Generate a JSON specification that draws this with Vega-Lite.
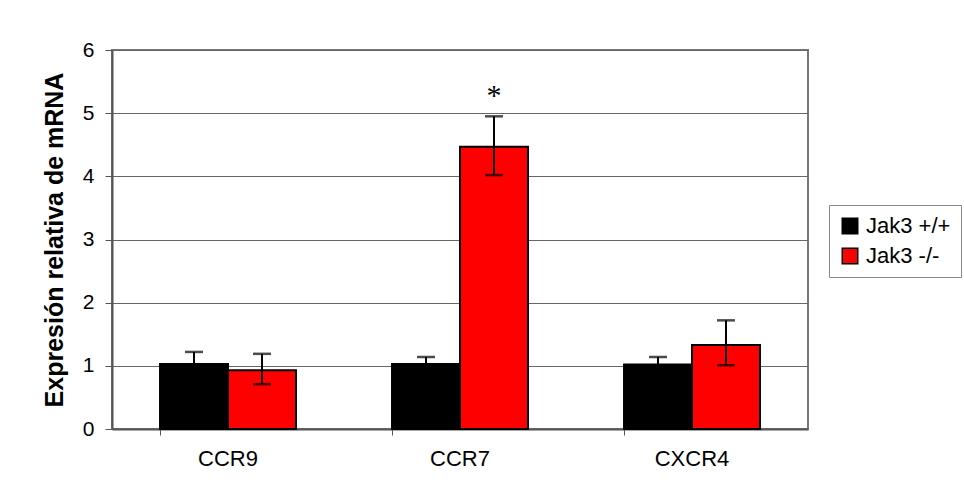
{
  "$schema": "https://vega.github.io/schema/vega-lite/v6.json",
  "width": 696,
  "height": 379,
  "autosize": {"type": "none"},
  "padding": {"left": 112, "top": 50, "right": 156, "bottom": 74},
  "background": "white",
  "config": {
    "font": "Liberation Sans",
    "view": {"stroke": "#777", "strokeWidth": 2}
  },
  "datasets": {
    "bars": [
      {"gene": "CCR9", "group": "Jak3 +/+", "value": 1.03, "lo": 0.84, "hi": 1.22},
      {"gene": "CCR9", "group": "Jak3 -/-", "value": 0.93, "lo": 0.71, "hi": 1.19},
      {"gene": "CCR7", "group": "Jak3 +/+", "value": 1.03, "lo": 0.92, "hi": 1.14},
      {"gene": "CCR7", "group": "Jak3 -/-", "value": 4.47, "lo": 4.02, "hi": 4.95},
      {"gene": "CXCR4", "group": "Jak3 +/+", "value": 1.02, "lo": 0.9, "hi": 1.14},
      {"gene": "CXCR4", "group": "Jak3 -/-", "value": 1.33, "lo": 1.01, "hi": 1.72}
    ],
    "stars": [
      {"gene": "CCR7", "group": "Jak3 -/-", "y": 5.36, "label": "*"}
    ]
  },
  "encoding": {
    "x": {
      "field": "gene",
      "type": "nominal",
      "sort": ["CCR9", "CCR7", "CXCR4"],
      "scale": {"paddingInner": 0.414, "paddingOuter": 0.207},
      "axis": {
        "title": null,
        "labelAngle": 0,
        "labelFontSize": 22,
        "labelColor": "black",
        "labelPadding": 13,
        "bandPosition": 0,
        "tickSize": 6,
        "tickColor": "#555",
        "domainColor": "#555",
        "domainWidth": 2,
        "grid": false
      }
    },
    "xOffset": {"field": "group", "type": "nominal", "sort": ["Jak3 +/+", "Jak3 -/-"], "scale": {"padding": 0}}
  },
  "layer": [
    {
      "data": {"name": "bars"},
      "mark": {"type": "bar", "stroke": "black", "strokeWidth": 2},
      "encoding": {
        "y": {
          "field": "value",
          "type": "quantitative",
          "scale": {"domain": [0, 6], "nice": false},
          "axis": {
            "title": "Expresión relativa de mRNA",
            "titleFontSize": 25,
            "titleFontWeight": "bold",
            "titleColor": "black",
            "titlePadding": 15,
            "values": [0, 1, 2, 3, 4, 5, 6],
            "format": "d",
            "labelFontSize": 21,
            "labelColor": "black",
            "labelPadding": 11,
            "tickSize": 7,
            "tickColor": "#555",
            "domainColor": "#555",
            "domainWidth": 2,
            "grid": true,
            "gridColor": "#666",
            "gridWidth": 1
          }
        },
        "color": {
          "field": "group",
          "type": "nominal",
          "sort": ["Jak3 +/+", "Jak3 -/-"],
          "scale": {"domain": ["Jak3 +/+", "Jak3 -/-"], "range": ["#000000", "#ff0000"]},
          "legend": {
            "title": null,
            "orient": "none",
            "legendX": 717,
            "legendY": 155,
            "symbolType": "square",
            "symbolSize": 240,
            "symbolStrokeColor": "black",
            "symbolStrokeWidth": 1.5,
            "labelFontSize": 22,
            "labelColor": "black",
            "labelOffset": 5,
            "rowPadding": 8,
            "strokeColor": "#888",
            "padding": 10,
            "fillColor": "white"
          }
        }
      }
    },
    {
      "data": {"name": "bars"},
      "mark": {"type": "rule", "color": "black", "strokeWidth": 2},
      "encoding": {
        "y": {"field": "lo", "type": "quantitative"},
        "y2": {"field": "hi"}
      }
    },
    {
      "data": {"name": "bars"},
      "mark": {"type": "tick", "color": "black", "thickness": 2.5, "size": 18, "orient": "horizontal"},
      "encoding": {
        "y": {"field": "hi", "type": "quantitative"}
      }
    },
    {
      "data": {"name": "bars"},
      "mark": {"type": "tick", "color": "black", "thickness": 2.5, "size": 18, "orient": "horizontal"},
      "encoding": {
        "y": {"field": "lo", "type": "quantitative"}
      }
    },
    {
      "data": {"name": "stars"},
      "mark": {"type": "text", "font": "Liberation Serif", "fontSize": 30, "color": "black", "baseline": "middle", "dy": 6},
      "encoding": {
        "y": {"field": "y", "type": "quantitative"},
        "text": {"field": "label"}
      }
    }
  ]
}
